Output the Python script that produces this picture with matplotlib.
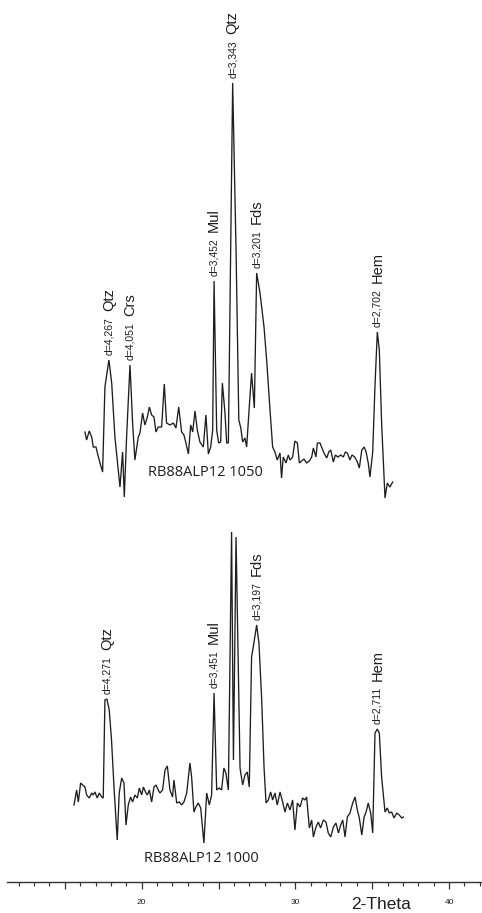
import matplotlib
matplotlib.use("Agg")
import matplotlib.pyplot as plt
from matplotlib.ticker import MultipleLocator, FuncFormatter
import numpy as np

# ---- diffractogram RB88ALP12 fired at 1050 C ----
two_theta_1050 = [
    16.31, 16.42, 16.59, 16.75, 16.85, 17.03, 17.12, 17.29, 17.46, 17.61,
    17.87, 18.05, 18.26, 18.59, 18.76, 18.87, 19.02, 19.24, 19.41, 19.56,
    19.78, 19.89, 20.06, 20.21, 20.37, 20.50, 20.65, 20.80, 20.93, 21.08,
    21.30, 21.47, 21.62, 21.84, 22.06, 22.23, 22.41, 22.60, 22.75, 22.88,
    23.04, 23.19, 23.32, 23.47, 23.62, 23.79, 24.01, 24.18, 24.34, 24.49,
    24.62, 24.71, 24.88, 25.01, 25.14, 25.25, 25.42, 25.53, 25.64, 25.92,
    26.14, 26.32, 26.45, 26.57, 26.72, 26.83, 27.00, 27.15, 27.33, 27.48,
    27.70, 27.96, 28.13, 28.35, 28.52, 28.67, 28.82, 29.00, 29.10, 29.21,
    29.39, 29.54, 29.65, 29.82, 29.97, 30.13, 30.26, 30.41, 30.56, 30.73,
    30.91, 31.06, 31.17, 31.34, 31.43, 31.60, 31.73, 31.86, 32.04, 32.17,
    32.30, 32.47, 32.60, 32.77, 32.95, 33.12, 33.25, 33.38, 33.55, 33.68,
    33.86, 34.03, 34.16, 34.32, 34.47, 34.60, 34.74, 34.85, 35.03, 35.18,
    35.33, 35.46, 35.61, 35.83, 35.98, 36.15, 36.33,
]
counts_1050 = [
    68, 60, 69, 63, 53, 53, 47, 37, 28, 113,
    140, 117, 63, 13, 48, 3, 63, 135, 77, 40,
    63, 67, 87, 75, 83, 93, 85, 83, 68, 73,
    73, 116, 77, 75, 77, 72, 93, 68, 65, 57,
    46, 75, 68, 89, 70, 58, 53, 85, 46, 53,
    70, 219, 70, 57, 58, 117, 87, 57, 57, 417,
    250, 80, 72, 58, 62, 53, 93, 127, 92, 227,
    207, 173, 140, 90, 53, 48, 40, 47, 22, 43,
    37, 45, 40, 43, 59, 57, 37, 39, 41, 37,
    39, 43, 52, 43, 57, 57, 52, 47, 42, 48,
    50, 38, 45, 43, 45, 43, 48, 47, 40, 45,
    43, 38, 32, 50, 53, 48, 37, 23, 48, 115,
    168, 150, 77, 2, 17, 13, 18,
]

# ---- diffractogram RB88ALP12 fired at 1000 C ----
two_theta_1000 = [
    15.60, 15.77, 15.88, 16.03, 16.16, 16.31, 16.42, 16.59, 16.75, 16.85,
    16.96, 17.11, 17.24, 17.40, 17.50, 17.61, 17.74, 17.89, 18.04, 18.20,
    18.41, 18.54, 18.70, 18.85, 18.98, 19.13, 19.28, 19.41, 19.56, 19.72,
    19.85, 20.00, 20.11, 20.28, 20.37, 20.50, 20.65, 20.80, 20.93, 21.08,
    21.19, 21.36, 21.52, 21.67, 21.84, 22.01, 22.10, 22.28, 22.45, 22.60,
    22.75, 22.93, 23.14, 23.25, 23.40, 23.53, 23.68, 23.84, 24.05, 24.23,
    24.40, 24.55, 24.71, 24.88, 25.05, 25.20, 25.35, 25.48, 25.64, 25.85,
    25.97, 26.14, 26.40, 26.57, 26.72, 26.87, 27.00, 27.15, 27.26, 27.48,
    27.63, 27.81, 27.96, 28.09, 28.24, 28.39, 28.52, 28.67, 28.82, 29.00,
    29.17, 29.32, 29.48, 29.65, 29.82, 29.97, 30.13, 30.30, 30.47, 30.62,
    30.73, 30.91, 31.06, 31.17, 31.34, 31.49, 31.64, 31.82, 31.99, 32.14,
    32.30, 32.47, 32.64, 32.80, 32.95, 33.08, 33.23, 33.38, 33.55, 33.73,
    33.88, 34.03, 34.16, 34.32, 34.47, 34.60, 34.74, 34.90, 35.03, 35.18,
    35.33, 35.46, 35.61, 35.83, 35.98, 36.11, 36.26, 36.42, 36.59, 36.76,
    36.92, 37.03,
]
counts_1000 = [
    45, 60, 48, 67, 65, 63, 55, 52, 57, 55,
    58, 52, 57, 53, 52, 150, 151, 140, 110, 63,
    10, 57, 72, 67, 25, 45, 53, 48, 55, 52,
    62, 55, 63, 57, 55, 60, 48, 63, 65, 60,
    57, 60, 80, 84, 60, 53, 70, 47, 48, 45,
    48, 57, 87, 73, 38, 43, 47, 42, 7, 57,
    45, 55, 157, 60, 62, 60, 82, 77, 60, 318,
    90, 313, 82, 65, 75, 78, 63, 193, 203, 225,
    207, 150, 83, 47, 50, 58, 50, 57, 45, 58,
    48, 38, 47, 40, 50, 20, 47, 43, 52, 50,
    53, 22, 30, 13, 23, 28, 22, 30, 28, 17,
    13, 23, 27, 17, 25, 30, 13, 33, 37, 47,
    53, 40, 32, 15, 33, 38, 47, 37, 17, 117,
    121, 117, 73, 38, 42, 37, 38, 32, 37, 35,
    32, 33,
]

# ---- indexed reflections ----
peaks_1050_2theta = [17.87, 19.24, 24.71, 25.92, 27.48, 35.33]
peaks_1050_d = ["4,267", "4,051", "3,452", "3,343", "3,201", "2,702"]
peaks_1050_phase = ["Qtz", "Crs", "Mul", "Qtz", "Fds", "Hem"]

peaks_1000_2theta = [17.74, 24.71, 27.48, 35.33]
peaks_1000_d = ["4,271", "3,451", "3,197", "2,711"]
peaks_1000_phase = ["Qtz", "Mul", "Fds", "Hem"]

sample_1050 = "RB88ALP12 1050"
sample_1000 = "RB88ALP12 1000"
x_label = "2-Theta"

# vertical stacking of the two patterns
offset_1050 = 382
offset_1000 = 32

W, H = 482, 913
fig = plt.figure(figsize=(W / 100, H / 100), dpi=100)
ax = fig.add_axes([7 / W, 31 / H, (W - 7) / W, (H - 31) / H])
ax.set_xlim(11.24, 42.14)
ax.set_ylim(0, H - 31)

line_kw = dict(color="#1e1e1e", lw=0.95, solid_joinstyle="miter")
ax.plot(two_theta_1050, np.asarray(counts_1050) + offset_1050, **line_kw)
ax.plot(two_theta_1000, np.asarray(counts_1000) + offset_1000, **line_kw)

label_font = ["Liberation Sans", "DejaVu Sans"]


def label_peaks(xs, ys, offset, positions, d_values, phases):
    xs = np.asarray(xs)
    ys = np.asarray(ys) + offset
    for pos, d, ph in zip(positions, d_values, phases):
        window = np.where(np.abs(xs - pos) < 0.12, ys, -np.inf)
        i = int(np.argmax(window))
        t = ax.annotate(f"d={d}", xy=(xs[i], ys[i]), xytext=(0, 5),
                        textcoords="offset pixels", rotation=90,
                        ha="center", va="bottom", fontsize=7.5,
                        family=label_font, color="#1e1e1e")
        ax.annotate(ph, xy=(0.5, 1.0), xycoords=t, xytext=(0, 6),
                    textcoords="offset pixels", rotation=90,
                    ha="center", va="bottom", fontsize=10.5,
                    family=label_font, color="#1e1e1e")


label_peaks(two_theta_1050, counts_1050, offset_1050,
            peaks_1050_2theta, peaks_1050_d, peaks_1050_phase)
label_peaks(two_theta_1000, counts_1000, offset_1000,
            peaks_1000_2theta, peaks_1000_d, peaks_1000_phase)

name_kw = dict(ha="center", va="center", fontsize=10.5,
               family=["Open Sans", "DejaVu Sans"], color="#1e1e1e")
ax.text(24.12, offset_1050 + 28, sample_1050, **name_kw)
ax.text(23.88, offset_1000 - 8, sample_1000, **name_kw)

# 2-theta scale along the bottom
for side in ("top", "left", "right"):
    ax.spines[side].set_visible(False)
ax.spines["bottom"].set_color("#333333")
ax.spines["bottom"].set_linewidth(1.0)
ax.yaxis.set_visible(False)
ax.xaxis.set_major_locator(MultipleLocator(5))
ax.xaxis.set_minor_locator(MultipleLocator(1))
ax.xaxis.set_major_formatter(
    FuncFormatter(lambda v, _: f"{v:.0f}" if round(v) % 10 == 0 else ""))
ax.tick_params(axis="x", which="major", direction="out", length=5,
               width=0.9, color="#333333", labelsize=6, pad=7,
               labelcolor="#1e1e1e")
ax.tick_params(axis="x", which="minor", direction="out", length=3,
               width=0.8, color="#333333")
for lab in ax.get_xticklabels():
    lab.set_family(label_font)

fig.text(381 / W, 1 / H, x_label, ha="center", va="bottom", fontsize=12.5,
         family=label_font, color="#1e1e1e")

fig.savefig("out.png", dpi=100)
